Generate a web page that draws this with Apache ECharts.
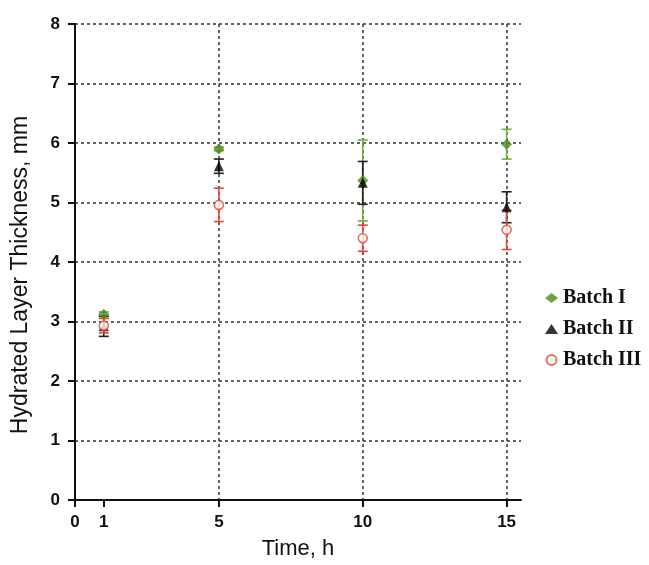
<!DOCTYPE html>
<html>
<head>
<meta charset="utf-8">
<script src="https://cdn.jsdelivr.net/npm/echarts@6/dist/echarts.min.js"></script>
<style>html,body{margin:0;padding:0;background:#fff}#c{width:649px;height:565px}</style>
</head>
<body>
<div id="c"></div>
<script>
const times = [1, 5, 10, 15];
const batch1 = [3.12, 5.90, 5.37, 5.98];
const err1   = [0.04, 0.03, 0.68, 0.25];
const batch2 = [2.92, 5.61, 5.33, 4.92];
const err2   = [0.17, 0.12, 0.36, 0.26];
const batch3 = [2.93, 4.96, 4.40, 4.54];
const err3   = [0.12, 0.28, 0.22, 0.33];
const xTickValues = [0, 1, 5, 10, 15];
const names = ['Batch I', 'Batch II', 'Batch III'];

function errSeries(vals, errs, color) {
  return {
    type: 'custom',
    silent: true,
    z: 2,
    data: times.map((t, i) => [t, vals[i] - errs[i], vals[i] + errs[i]]),
    renderItem: function (params, api) {
      const lo = api.coord([api.value(0), api.value(1)]);
      const hi = api.coord([api.value(0), api.value(2)]);
      const w = 5;
      const st = { stroke: color, lineWidth: 1.6 };
      return {
        type: 'group',
        children: [
          { type: 'line', shape: { x1: lo[0], y1: lo[1], x2: hi[0], y2: hi[1] }, style: st },
          { type: 'line', shape: { x1: lo[0] - w, y1: lo[1], x2: lo[0] + w, y2: lo[1] }, style: st },
          { type: 'line', shape: { x1: hi[0] - w, y1: hi[1], x2: hi[0] + w, y2: hi[1] }, style: st }
        ]
      };
    }
  };
}

const chart = echarts.init(document.getElementById('c'));
const gridLine = { show: true, lineStyle: { color: '#333', width: 1.5, type: [3, 3] } };
chart.setOption({
  animation: false,
  backgroundColor: '#fff',
  grid: { left: 75, top: 24, right: 128, bottom: 65, containLabel: false },
  legend: {
    orient: 'vertical',
    left: 540,
    top: 283,
    itemGap: 11,
    itemWidth: 13,
    itemHeight: 10,
    data: names,
    textStyle: { fontFamily: 'Liberation Serif', fontWeight: 'bold', fontSize: 20, color: '#111' }
  },
  xAxis: [{
    type: 'value',
    min: 0,
    max: 15.5,
    interval: 5,
    name: 'Time, h',
    nameLocation: 'middle',
    nameGap: 38,
    nameTextStyle: { fontFamily: 'Liberation Sans', fontSize: 22, color: '#111' },
    axisLine: { show: true, onZero: false, lineStyle: { color: '#111', width: 2 } },
    axisTick: { show: true, length: 7, customValues: xTickValues, lineStyle: { color: '#111', width: 2 } },
    axisLabel: { customValues: xTickValues, margin: 14, fontFamily: 'Liberation Sans', fontWeight: 'bold', fontSize: 17, color: '#111' },
    splitLine: { show: false }
  }, {
    type: 'value',
    min: 0,
    max: 15.5,
    interval: 5,
    position: 'bottom',
    axisLine: { show: false },
    axisTick: { show: false },
    axisLabel: { show: false },
    splitLine: Object.assign({ showMinLine: false, showMaxLine: false }, gridLine)
  }],
  yAxis: {
    type: 'value',
    min: 0,
    max: 8,
    interval: 1,
    name: 'Hydrated Layer Thickness, mm',
    nameLocation: 'middle',
    nameGap: 43,
    nameTextStyle: { fontFamily: 'Liberation Sans', fontSize: 23, color: '#111', padding: [0, 26, 0, 0] },
    axisLine: { show: true, onZero: false, lineStyle: { color: '#111', width: 2 } },
    axisTick: { show: true, length: 7, lineStyle: { color: '#111', width: 2 } },
    axisLabel: { margin: 15, fontFamily: 'Liberation Sans', fontWeight: 'bold', fontSize: 17, color: '#111' },
    splitLine: gridLine
  },
  series: [
    errSeries(batch1, err1, '#6fae3c'),
    errSeries(batch2, err2, '#222'),
    errSeries(batch3, err3, '#e8483c'),
    {
      name: names[0], type: 'scatter', symbol: 'diamond', symbolSize: 11, z: 3,
      itemStyle: { color: '#4d8a1e' },
      data: times.map((t, i) => [t, batch1[i]])
    },
    {
      name: names[1], type: 'scatter', symbol: 'triangle', symbolSize: 10, z: 4,
      itemStyle: { color: '#000' },
      data: times.map((t, i) => [t, batch2[i]])
    },
    {
      name: names[2], type: 'scatter', symbol: 'circle', symbolSize: 9, z: 5,
      itemStyle: { color: '#fff', borderColor: '#e8483c', borderWidth: 1.6 },
      data: times.map((t, i) => [t, batch3[i]])
    }
  ]
});
</script>
</body>
</html>
